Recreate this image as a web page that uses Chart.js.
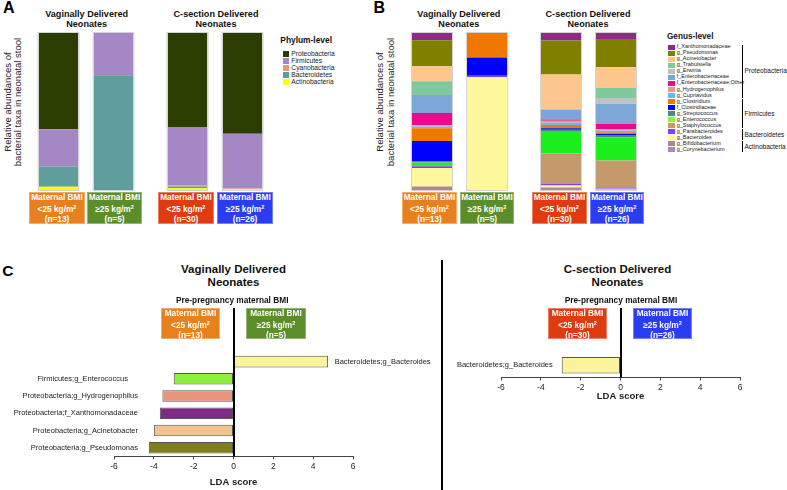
<!DOCTYPE html>
<html><head><meta charset="utf-8">
<script src="https://cdn.jsdelivr.net/npm/chart.js@4.4.1/dist/chart.umd.min.js"></script>
<style>
html,body{margin:0;padding:0;background:#fff;}
#fig{position:relative;width:787px;height:490px;overflow:hidden;font-family:'Liberation Sans',Arial,Helvetica,sans-serif;color:#111;background:#fff;}
#fig canvas{position:absolute;}
.t{position:absolute;white-space:nowrap;transform:translate(-50%,-50%);line-height:1;}
.l{position:absolute;white-space:nowrap;transform:translate(0,-50%);line-height:1;}
.r{position:absolute;white-space:nowrap;transform:translate(-50%,-50%) rotate(-90deg);line-height:1;font-size:9.5px;color:#222;}
.box{position:absolute;color:#fff;font-weight:bold;font-size:8.3px;text-align:center;box-sizing:border-box;display:flex;flex-direction:column;justify-content:center;line-height:10px;box-shadow:inset 0 0 0 1px rgba(255,255,255,0.35);}
</style></head><body><div id="fig"></div>
<script>
// ---------------- DATA ----------------
const deliveryGroups = ['Vaginally Delivered', 'C-section Delivered'];
const bmiClasses = ['<25 kg/m²', '≥25 kg/m²', '<25 kg/m²', '≥25 kg/m²'];
const sampleSizes = [13, 5, 30, 26];

// Panel A: phylum-level relative abundance (%) [V<25, V>=25, C<25, C>=25]
const phylumNames = ['Proteobacteria', 'Firmicutes', 'Cyanobacteria', 'Bacteroidetes', 'Actinobacteria'];
const proteobacteria = [61.2, 0, 60.0, 64.0];
const firmicutes = [23.4, 27.2, 36.6, 34.4];
const cyanobacteria = [0, 0, 0.6, 0.3];
const bacteroidetes = [12.7, 72.8, 1.0, 0];
const actinobacteria = [2.7, 0, 1.8, 1.3];

// Panel B: genus-level relative abundance (%) [V<25, V>=25, C<25, C>=25]
const genusNames = ['f_Xanthomonadaceae', 'g_Pseudomonas', 'g_Acinetobacter', 'g_Trabulsiella', 'g_Erwinia',
  'f_Enterobacteriaceae', 'f_Enterobacteriaceae;Other', 'g_Hydrogenophilus', 'g_Cupriavidus', 'g_Clostridium',
  'f_Clostridiaceae', 'g_Streptococcus', 'g_Enterococcus', 'g_Staphylococcus', 'g_Parabacteroides',
  'g_Bacteroides', 'g_Bifidobacterium', 'g_Corynebacterium'];
const xanthomonadaceae = [5.2, 0, 5.4, 4.4];
const pseudomonas = [16.3, 0, 21.3, 17.8];
const acinetobacter = [9.4, 0, 22.0, 13.0];
const trabulsiella = [8.8, 0, 0, 6.3];
const erwinia = [0, 0, 0, 3.6];
const enterobacteriaceae = [11.3, 0, 6.3, 12.6];
const enterobacteriaceaeOther = [7.7, 0, 0.8, 3.3];
const hydrogenophilus = [0.8, 0, 1.2, 1.0];
const cupriavidus = [1.0, 0, 1.5, 1.0];
const clostridium = [8.0, 16.0, 2.0, 1.2];
const clostridiaceae = [12.6, 11.5, 1.0, 0.6];
const streptococcus = [1.0, 0, 1.3, 1.4];
const enterococcus = [1.5, 0, 13.6, 14.6];
const staphylococcus = [0.8, 0, 19.2, 17.0];
const parabacteroides = [1.2, 1.0, 1.0, 0.8];
const bacteroides = [11.5, 71.5, 1.2, 0.4];
const bifidobacterium = [2.7, 0, 1.0, 0.5];
const corynebacterium = [0.2, 0, 1.2, 0.5];
const genusPhyla = [['Proteobacteria', 0, 8], ['Firmicutes', 9, 13], ['Bacteroidetes', 14, 15], ['Actinobacteria', 16, 17]];

// Panel C: LEfSe LDA scores
const ldaVaginalTaxa = ['Bacteroidetes;g_Bacteroides', 'Firmicutes;g_Enterococcus', 'Proteobacteria;g_Hydrogenophilus',
  'Proteobacteria;f_Xanthomonadaceae', 'Proteobacteria;g_Acinetobacter', 'Proteobacteria;g_Pseudomonas'];
const ldaVaginalScores = [4.75, -3.0, -3.57, -3.7, -4.0, -4.25];
const ldaCsectionTaxa = ['Bacteroidetes;g_Bacteroides'];
const ldaCsectionScores = [-2.95];
const ldaTicks = [-6, -4, -2, 0, 2, 4, 6];

// ---------------- STYLE ----------------
const phylumColors = ['#2c3d00', '#a487c4', '#e8957c', '#5f9e9c', '#ffff00'];
const genusColors = ['#8e2a8c', '#808000', '#fdc68c', '#80c99c', '#c0c0c0', '#7ba7d8', '#ec0a8c', '#e79a80',
  '#66b8ff', '#f07800', '#0000ff', '#468a8a', '#1cf01c', '#c49a6c', '#7f40ff', '#fff79c', '#b8828a', '#a08ac8'];
const genusLegendColors = genusColors.slice();
genusLegendColors[12] = '#8cf03c';
const ldaColors = {
  'Bacteroidetes;g_Bacteroides': '#fbf49c', 'Firmicutes;g_Enterococcus': '#8cf03c',
  'Proteobacteria;g_Hydrogenophilus': '#e8957c', 'Proteobacteria;f_Xanthomonadaceae': '#7f2a85',
  'Proteobacteria;g_Acinetobacter': '#f2c48d', 'Proteobacteria;g_Pseudomonas': '#7f7f1a'
};
const boxColors = ['#e8801e', '#5b8e2a', '#e03a10', '#2b3df2'];

Chart.defaults.font.family = "'Liberation Sans', Arial, Helvetica, sans-serif";
const fig = document.getElementById('fig');

function addCanvas(left, top, w, h) {
  const c = document.createElement('canvas');
  c.width = w; c.height = h;
  c.style.left = left + 'px'; c.style.top = top + 'px';
  c.style.width = w + 'px'; c.style.height = h + 'px';
  fig.appendChild(c);
  return c;
}
function T(x, y, html, css, cls) {
  const d = document.createElement('div');
  d.className = cls || 't';
  d.style.left = x + 'px'; d.style.top = y + 'px';
  d.style.cssText += css || '';
  d.innerHTML = html;
  fig.appendChild(d);
  return d;
}
function box(x, y, w, h, color, bmi, n) {
  const d = document.createElement('div');
  d.className = 'box';
  d.style.left = x + 'px'; d.style.top = y + 'px';
  d.style.width = w + 'px'; d.style.height = h + 'px';
  d.style.background = color;
  d.innerHTML = '<div>Maternal BMI</div><div>' + bmi.replace('²', '<sup style="font-size:5.5px;vertical-align:3px">2</sup>') + '</div><div>(n=' + n + ')</div>';
  fig.appendChild(d);
}

const outlinePlugin = {
  id: 'outline',
  afterDatasetsDraw(chart) {
    const ctx = chart.ctx, ca = chart.chartArea;
    const meta = chart.getDatasetMeta(0);
    ctx.save();
    ctx.strokeStyle = '#d4d4d4'; ctx.lineWidth = 1;
    meta.data.forEach(el => {
      const w = el.width;
      ctx.strokeRect(Math.round(el.x - w / 2) + 0.5, ca.top + 0.5, Math.round(w) - 1, ca.bottom - ca.top - 1);
    });
    ctx.restore();
  }
};

function stacked(left, top, w, h, idx, names, arrays, colors) {
  const c = addCanvas(left, top, w, h);
  const datasets = [];
  for (let i = names.length - 1; i >= 0; i--) {
    datasets.push({
      label: names[i], data: idx.map(k => arrays[i][k]), backgroundColor: colors[i],
      borderWidth: 0, barPercentage: 0.75, categoryPercentage: 1
    });
  }
  new Chart(c, {
    type: 'bar',
    data: { labels: idx.map(k => bmiClasses[k]), datasets },
    options: {
      responsive: false, animation: false, layout: { padding: 0 },
      plugins: { legend: { display: false }, tooltip: { enabled: false } },
      scales: {
        x: { display: false, stacked: true },
        y: { display: false, stacked: true, min: 0, max: 100 }
      }
    },
    plugins: [outlinePlugin]
  });
}

const phylumArrays = [proteobacteria, firmicutes, cyanobacteria, bacteroidetes, actinobacteria];
const genusArrays = [xanthomonadaceae, pseudomonas, acinetobacter, trabulsiella, erwinia, enterobacteriaceae,
  enterobacteriaceaeOther, hydrogenophilus, cupriavidus, clostridium, clostridiaceae, streptococcus, enterococcus,
  staphylococcus, parabacteroides, bacteroides, bifidobacterium, corynebacterium];

// Panel A
stacked(31, 32, 110, 159, [0, 1], phylumNames, phylumArrays, phylumColors);
stacked(160, 32, 110, 159, [2, 3], phylumNames, phylumArrays, phylumColors);
// Panel B
stacked(404, 32, 111, 159, [0, 1], genusNames, genusArrays, genusColors);
stacked(533, 32, 111, 159, [2, 3], genusNames, genusArrays, genusColors);

// LDA charts
function ldaChart(left, top, w, h, pad, taxa, scores, labelAt) {
  const c = addCanvas(left, top, w, h);
  const zeroFrom = 308 - top;
  const deco = {
    id: 'deco',
    afterDatasetsDraw(chart) {
      const ctx = chart.ctx, xs = chart.scales.x, meta = chart.getDatasetMeta(0);
      ctx.save();
      ctx.font = "7.5px 'Liberation Sans', Arial, sans-serif";
      ctx.fillStyle = '#222'; ctx.textBaseline = 'middle';
      taxa.forEach((lab, i) => {
        ctx.textAlign = scores[i] < 0 ? 'right' : 'left';
        ctx.fillText(lab, xs.getPixelForValue(labelAt[i]), meta.data[i].y);
      });
      const x0 = Math.round(xs.getPixelForValue(0));
      ctx.strokeStyle = '#000'; ctx.lineWidth = 2;
      ctx.beginPath(); ctx.moveTo(x0, zeroFrom); ctx.lineTo(x0, chart.chartArea.bottom); ctx.stroke();
      ctx.restore();
    }
  };
  new Chart(c, {
    type: 'bar',
    data: {
      labels: taxa,
      datasets: [{
        data: scores, backgroundColor: taxa.map(t => ldaColors[t]), borderColor: '#555', borderWidth: 1,
        borderSkipped: false, barPercentage: 0.67, categoryPercentage: 1
      }]
    },
    options: {
      indexAxis: 'y', responsive: false, animation: false,
      layout: { padding: pad },
      plugins: { legend: { display: false }, tooltip: { enabled: false } },
      scales: {
        x: {
          min: -6, max: 6,
          afterBuildTicks: s => { s.ticks = ldaTicks.map(v => ({ value: v })); },
          ticks: { color: '#222', font: { size: 8.5 }, padding: 2, maxRotation: 0, autoSkip: false },
          grid: { display: true, drawOnChartArea: false, drawTicks: true, tickLength: 3, color: '#444' },
          border: { display: true, color: '#444', width: 1 },
          title: { display: true, text: 'LDA score', color: '#222', font: { size: 9.5, weight: 'bold' }, padding: { top: 3, bottom: 0 } }
        },
        y: { display: false }
      }
    },
    plugins: [deco]
  });
}
ldaChart(0, 300, 440, 190, { left: 114, right: 87, top: 53, bottom: 2 }, ldaVaginalTaxa, ldaVaginalScores,
  [5.08, -5.3, -4.8, -4.8, -4.8, -4.8]);
ldaChart(443, 300, 344, 104, { left: 58, right: 47, top: 53, bottom: 2 }, ldaCsectionTaxa, ldaCsectionScores,
  [-3.4]);

// ---------------- TEXT ----------------
T(8.8, 7.5, 'A', 'font-size:16px;font-weight:bold;color:#000;');
T(379.3, 7.5, 'B', 'font-size:16px;font-weight:bold;color:#000;');
T(7.9, 270.5, 'C', 'font-size:15.5px;font-weight:bold;color:#000;');

const tA = 'font-size:9.1px;font-weight:bold;color:#111;';
[[86.7, 0], [216, 1], [458.8, 0], [588, 1]].forEach(([x, g]) => {
  T(x, 14.7, deliveryGroups[g], tA);
  T(x, 25, 'Neonates', tA);
});
[7.5, 380].forEach(x => {
  T(x, 102, 'Relative abundances of', '', 'r');
  T(x + 10.5, 102, 'bacterial taxa in neonatal stool', '', 'r');
});

// boxes under A and B
[[29, 56], [87, 55], [158, 56], [217, 56]].forEach(([x, w], k) => box(x, 192, w, 32, boxColors[k], bmiClasses[k], sampleSizes[k]));
[[402, 55], [460, 54], [532, 55], [590, 54]].forEach(([x, w], k) => box(x, 192, w, 32, boxColors[k], bmiClasses[k], sampleSizes[k]));

// Legend A
T(280.3, 40.3, 'Phylum-level', 'font-size:8.4px;font-weight:bold;color:#111;', 'l');
phylumNames.forEach((n, i) => {
  const y = 54.3 + i * 6.9;
  const s = document.createElement('div');
  s.style.cssText = 'position:absolute;left:282.7px;top:' + (y - 3) + 'px;width:6px;height:6px;background:' + phylumColors[i];
  fig.appendChild(s);
  T(291.3, y, n, 'font-size:6.7px;color:#222;', 'l');
});

// Legend B
T(667, 36.7, 'Genus-level', 'font-size:8.2px;font-weight:bold;color:#111;', 'l');
genusNames.forEach((n, i) => {
  const y = 47.3 + i * 6.03;
  const s = document.createElement('div');
  s.style.cssText = 'position:absolute;left:668px;top:' + (y - 2.5) + 'px;width:6.5px;height:5px;background:' + genusLegendColors[i];
  fig.appendChild(s);
  T(676.7, y, n, 'font-size:5.5px;color:#222;', 'l');
});
genusPhyla.forEach(([name, a, b]) => {
  const y0 = 47.3 + a * 6.03 - 2.5, y1 = 47.3 + b * 6.03 + 2.5;
  const s = document.createElement('div');
  s.style.cssText = 'position:absolute;left:742px;top:' + y0 + 'px;width:1px;height:' + (y1 - y0) + 'px;background:#000';
  fig.appendChild(s);
  T(744.5, (y0 + y1) / 2, name, 'font-size:6.5px;color:#111;', 'l');
});

// Panel C text
const tC = 'font-size:11.5px;font-weight:bold;color:#111;';
T(233.5, 270, deliveryGroups[0], tC); T(233.5, 283.3, 'Neonates', tC);
T(617.5, 270, deliveryGroups[1], tC); T(617.5, 283.3, 'Neonates', tC);
T(232.2, 300, 'Pre-pregnancy maternal BMI', 'font-size:8.3px;font-weight:bold;color:#111;');
T(621, 300, 'Pre-pregnancy maternal BMI', 'font-size:8.3px;font-weight:bold;color:#111;');
box(161, 308, 59, 31, boxColors[0], bmiClasses[0], sampleSizes[0]);
box(246, 308, 60, 31, boxColors[1], bmiClasses[1], sampleSizes[1]);
box(548, 308, 59, 31, boxColors[2], bmiClasses[2], sampleSizes[2]);
box(633, 308, 59, 31, boxColors[3], bmiClasses[3], sampleSizes[3]);

const div = document.createElement('div');
div.style.cssText = 'position:absolute;left:441px;top:260px;width:1.5px;height:230px;background:#000';
fig.appendChild(div);
</script></body></html>
